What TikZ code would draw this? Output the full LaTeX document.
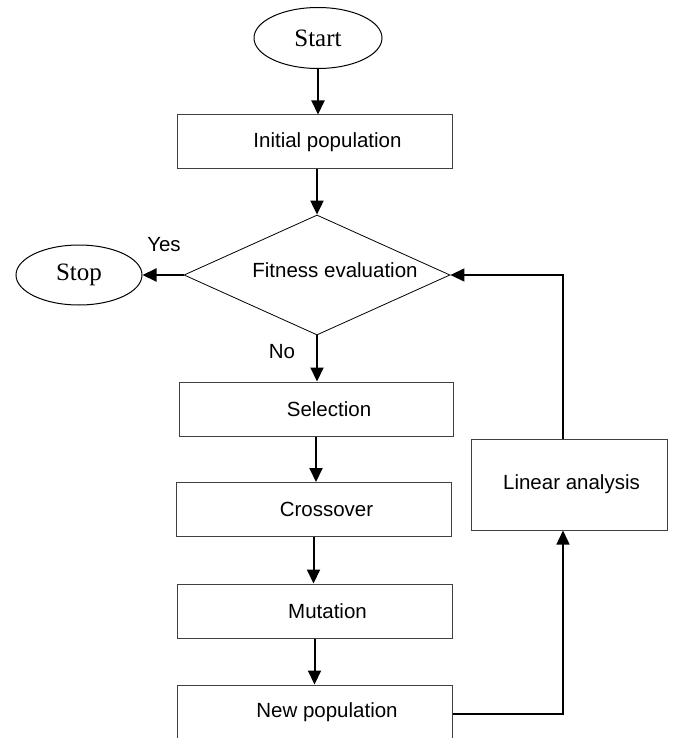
\documentclass[tikz,border=0pt]{standalone}
\usepackage{fontspec}
\setmainfont{Liberation Sans}
\newfontfamily\serifont{Liberation Serif}
\usetikzlibrary{shapes.geometric,arrows.meta,calc}
\tikzset{
  term/.style={ellipse, draw=black, line width=1pt, minimum width=128pt, minimum height=61pt, inner sep=0pt, font=\serifont\fontsize{25}{28}\selectfont},
  procbox/.style={rectangle, draw=black!75, line width=1pt, minimum width=275pt, minimum height=54pt, inner sep=0pt, font=\fontsize{20.5}{24}\selectfont},
  decision/.style={diamond, draw=black, line width=0.8pt, minimum width=266pt, minimum height=120pt, inner sep=0pt},
  flow/.style={-{Triangle[length=14pt,width=13pt]}, line width=2pt},
  back/.style={-{Triangle[length=14pt,width=13pt]}, line width=1.4pt},
  lbl/.style={font=\fontsize{20.5}{24}\selectfont, inner sep=0pt}
}
\begin{document}
\begin{tikzpicture}[x=1pt,y=-1pt]
\useasboundingbox[fill=white] (0,0) rectangle (672,738);
\node[term] (start) at (318,38) {Start};
\node[procbox] (init) at (314.5,142) {\hspace*{26pt}Initial population};
\node[decision, label={[lbl, xshift=18pt, yshift=5pt]center:Fitness evaluation}] (fit) at (317,275) {};
\node[term, minimum width=126pt, minimum height=60pt] (stop) at (79,275) {Stop};
\node[procbox, minimum width=274pt] (sel) at (316,409) {\hspace*{26pt}Selection};
\node[procbox] (cross) at (313.5,509.5) {\hspace*{26pt}Crossover};
\node[procbox] (mut) at (314.5,611) {\hspace*{26pt}Mutation};
\node[procbox] (newp) at (314.5,712) {\hspace*{25pt}New population};
\node[procbox, minimum width=196pt, minimum height=91pt] (lin) at (569,484.5) {\hspace*{5pt}Linear analysis};
\node[lbl] (yes) at (164,245) {Yes};
\node[lbl] (no) at (282,352) {No};
\draw[flow] (start.south) -- (start.south |- init.north);
\draw[flow] (fit.north |- init.south) -- (fit.north);
\draw[flow] (fit.west) -- (stop.east);
\draw[flow] (fit.south) -- (fit.south |- sel.north);
\draw[flow] (sel.south) -- (sel.south |- cross.north);
\draw[flow] (cross.south) -- (cross.south |- mut.north);
\draw[flow] (mut.south) -- (mut.south |- newp.north);
\coordinate (lb) at ([xshift=-6pt]lin.south);
\coordinate (lt) at ([xshift=-6pt]lin.north);
\draw[back] ([yshift=-2pt]newp.east) -| (lb);
\draw[back] (lt) |- (fit.east);
\end{tikzpicture}
\end{document}
